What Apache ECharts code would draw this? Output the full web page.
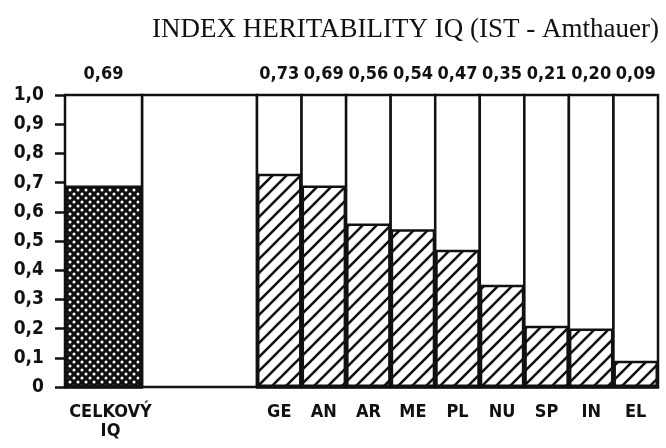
<!DOCTYPE html>
<html><head><meta charset="utf-8">
<script src="https://cdn.jsdelivr.net/npm/echarts@6/dist/echarts.min.js"></script>
<style>html,body{margin:0;padding:0;background:#fff}#c{width:666px;height:448px}</style>
</head><body><div id="c"></div>
<script>
const titleText = 'INDEX HERITABILITY IQ (IST - Amthauer)';
const categoriesLeft = ['CELKOVÝ\nIQ'];
const valuesLeft = [0.69];
const categoriesRight = ['GE', 'AN', 'AR', 'ME', 'PL', 'NU', 'SP', 'IN', 'EL'];
const valuesRight = [0.73, 0.69, 0.56, 0.54, 0.47, 0.35, 0.21, 0.20, 0.09];

const fmtLabel = v => v.toFixed(2).replace('.', ',');
const tickFmt = v => v === 0 ? '0' : v.toFixed(1).replace('.', ',');

function hatchPattern() {
  const s = 14, c = document.createElement('canvas');
  c.width = c.height = s;
  const x = c.getContext('2d');
  x.fillStyle = '#fff'; x.fillRect(0, 0, s, s);
  x.strokeStyle = '#111'; x.lineWidth = 2.6; x.lineCap = 'square';
  x.beginPath();
  x.moveTo(0, s); x.lineTo(s, 0);
  x.moveTo(-2, 2); x.lineTo(2, -2);
  x.moveTo(s - 2, s + 2); x.lineTo(s + 2, s - 2);
  x.stroke();
  return c;
}
function dotPattern() {
  const s = 8, c = document.createElement('canvas');
  c.width = c.height = s;
  const x = c.getContext('2d');
  x.fillStyle = '#111'; x.fillRect(0, 0, s, s);
  x.fillStyle = '#fff';
  [[2, 2], [6, 6]].forEach(p => { x.beginPath(); x.arc(p[0], p[1], 1.5, 0, Math.PI * 2); x.fill(); });
  return c;
}

const font = '"DejaVu Sans Condensed", "DejaVu Sans", sans-serif';
const ink = '#111';
const gridTop = 95, gridHeight = 292;

function barSeries(xi, yi, data, pattern) {
  return {
    type: 'bar', xAxisIndex: xi, yAxisIndex: yi, data: data,
    barWidth: '100%', barGap: '-100%',
    showBackground: true,
    backgroundStyle: { color: '#fff', borderColor: ink, borderWidth: 2.5 },
    itemStyle: { color: { image: pattern, repeat: 'repeat' }, borderColor: ink, borderWidth: 2.5 },
    silent: true, animation: false
  };
}

const chart = echarts.init(document.getElementById('c'), null, { renderer: 'canvas' });
chart.setOption({
  backgroundColor: '#fff',
  animation: false,
  title: {
    text: titleText, right: 2, top: 11,
    textStyle: { fontFamily: '"Liberation Serif", serif', fontSize: 27, fontWeight: 'normal', color: ink }
  },
  grid: [
    { left: 65, top: gridTop, width: 77, height: gridHeight },
    { left: 142, top: gridTop, width: 115, height: gridHeight, show: true, borderColor: ink, borderWidth: 2.5, backgroundColor: '#fff' },
    { left: 257, top: gridTop, width: 401, height: gridHeight }
  ],
  xAxis: [
    { gridIndex: 0, type: 'category', data: categoriesLeft, axisLine: { show: true, lineStyle: { color: ink, width: 2.5 } }, axisTick: { show: false },
      axisLabel: { color: ink, fontFamily: font, fontWeight: 'bold', fontSize: 18, margin: 16, lineHeight: 19, padding: [0, 0, 0, 14] } },
    { gridIndex: 0, type: 'category', position: 'top', data: valuesLeft.map(fmtLabel), axisLine: { show: false }, axisTick: { show: false },
      axisLabel: { color: ink, fontFamily: font, fontWeight: 'bold', fontSize: 18, margin: 12 } },
    { gridIndex: 1, type: 'category', data: [''], show: false },
    { gridIndex: 2, type: 'category', data: categoriesRight, axisLine: { show: true, lineStyle: { color: ink, width: 2.5 } }, axisTick: { show: false },
      axisLabel: { color: ink, fontFamily: font, fontWeight: 'bold', fontSize: 18, margin: 16, interval: 0 } },
    { gridIndex: 2, type: 'category', position: 'top', data: valuesRight.map(fmtLabel), axisLine: { show: false }, axisTick: { show: false },
      axisLabel: { color: ink, fontFamily: font, fontWeight: 'bold', fontSize: 18, margin: 12, interval: 0 } }
  ],
  yAxis: [
    { gridIndex: 0, type: 'value', min: 0, max: 1, interval: 0.1, splitLine: { show: false },
      axisLine: { show: true, lineStyle: { color: ink, width: 2.5 } },
      axisTick: { show: true, length: 10, lineStyle: { color: ink, width: 2.5 } },
      axisLabel: { color: ink, fontFamily: font, fontWeight: 'bold', fontSize: 19, margin: 21, formatter: tickFmt } },
    { gridIndex: 1, type: 'value', min: 0, max: 1, show: false },
    { gridIndex: 2, type: 'value', min: 0, max: 1, show: false, splitLine: { show: false } }
  ],
  series: [
    barSeries(0, 0, valuesLeft, dotPattern()),
    barSeries(3, 2, valuesRight, hatchPattern())
  ]
});
</script></body></html>
